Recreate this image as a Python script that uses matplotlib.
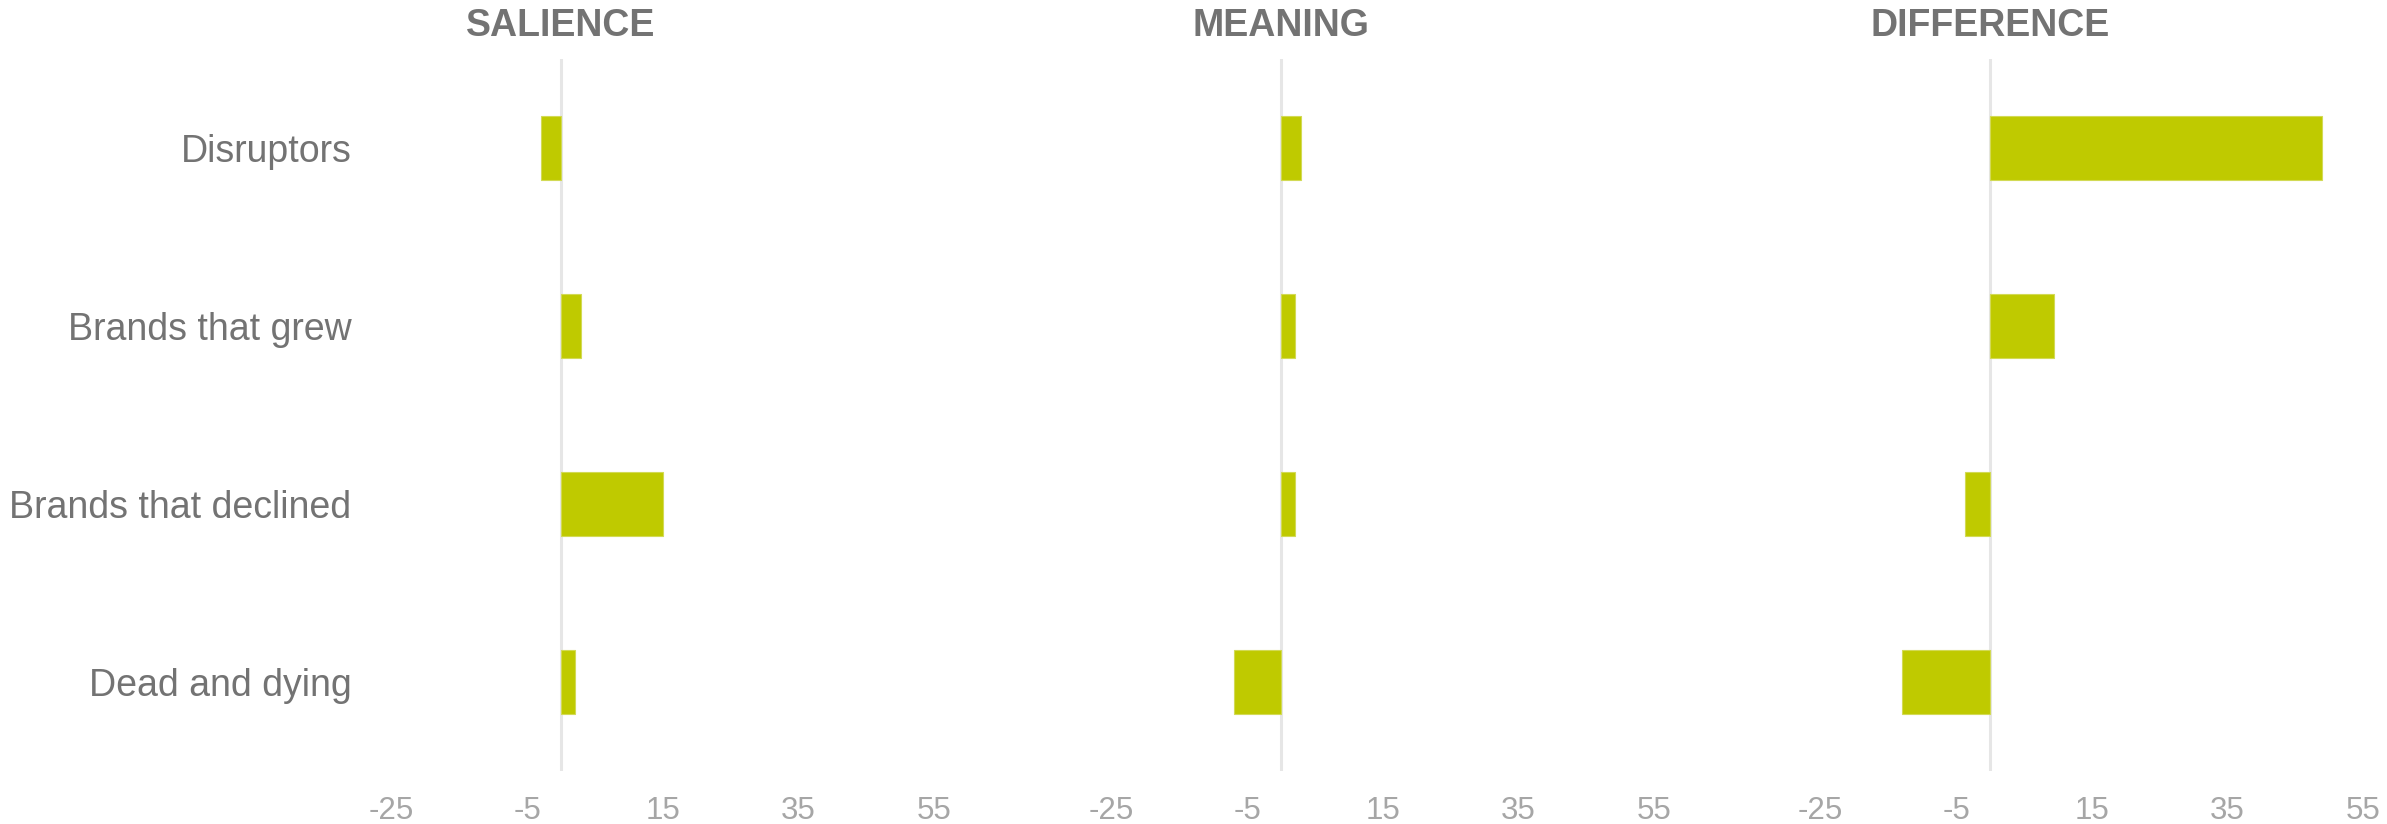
import matplotlib
matplotlib.use("Agg")
import matplotlib.pyplot as plt
from matplotlib.transforms import blended_transform_factory

plt.rcParams['font.family'] = ['Liberation Sans', 'DejaVu Sans']

categories = ["Disruptors", "Brands that grew", "Brands that declined", "Dead and dying"]
panel_titles = ["SALIENCE", "MEANING", "DIFFERENCE"]
salience = [-3, 3, 15, 2]
meaning = [3, 2, 2, -7]
difference = [49, 9.5, -3.7, -13]
tick_values = [-25, -5, 15, 35, 55]

series = [salience, meaning, difference]

W, H = 2387, 824
fig = plt.figure(figsize=(W / 100, H / 100), dpi=100)

bar_color = "#BFCA00"
title_color = "#737373"
label_color = "#737373"
tick_color = "#A6A6A6"

lefts_px = [391.6, 1111.6, 1820.6]
width_px = 542
top_px, bottom_px = 59, 771

for i, (left, vals, title) in enumerate(zip(lefts_px, series, panel_titles)):
    ax = fig.add_axes([left / W, 1 - bottom_px / H, width_px / W, (bottom_px - top_px) / H])
    y = list(range(len(categories)))
    ax.barh(y, vals, height=0.355, color=bar_color, edgecolor="#D2DA55", linewidth=0.8, zorder=3)
    ax.set_xlim(-25, 55)
    ax.set_ylim(len(categories) - 0.5, -0.5)
    ax.axvline(0, color="#E6E6E6", linewidth=2.2, zorder=2)
    for s in ax.spines.values():
        s.set_visible(False)
    ax.set_xticks(tick_values)
    ax.set_xticklabels([str(v) for v in tick_values])
    ax.tick_params(axis='x', length=0, pad=18, labelsize=22.5, labelcolor=tick_color)
    if i == 0:
        ax.set_yticks(y)
        ax.set_yticklabels(categories)
        ax.tick_params(axis='y', length=0, pad=29, labelsize=27, labelcolor=label_color)
    else:
        ax.set_yticks([])
    tr = blended_transform_factory(ax.transData, fig.transFigure)
    ax.text(0, 1 - 26 / H, title, transform=tr, ha='center', va='center',
            fontsize=27, fontweight='bold', color=title_color)

fig.savefig("out.png", dpi=100, facecolor="white")
